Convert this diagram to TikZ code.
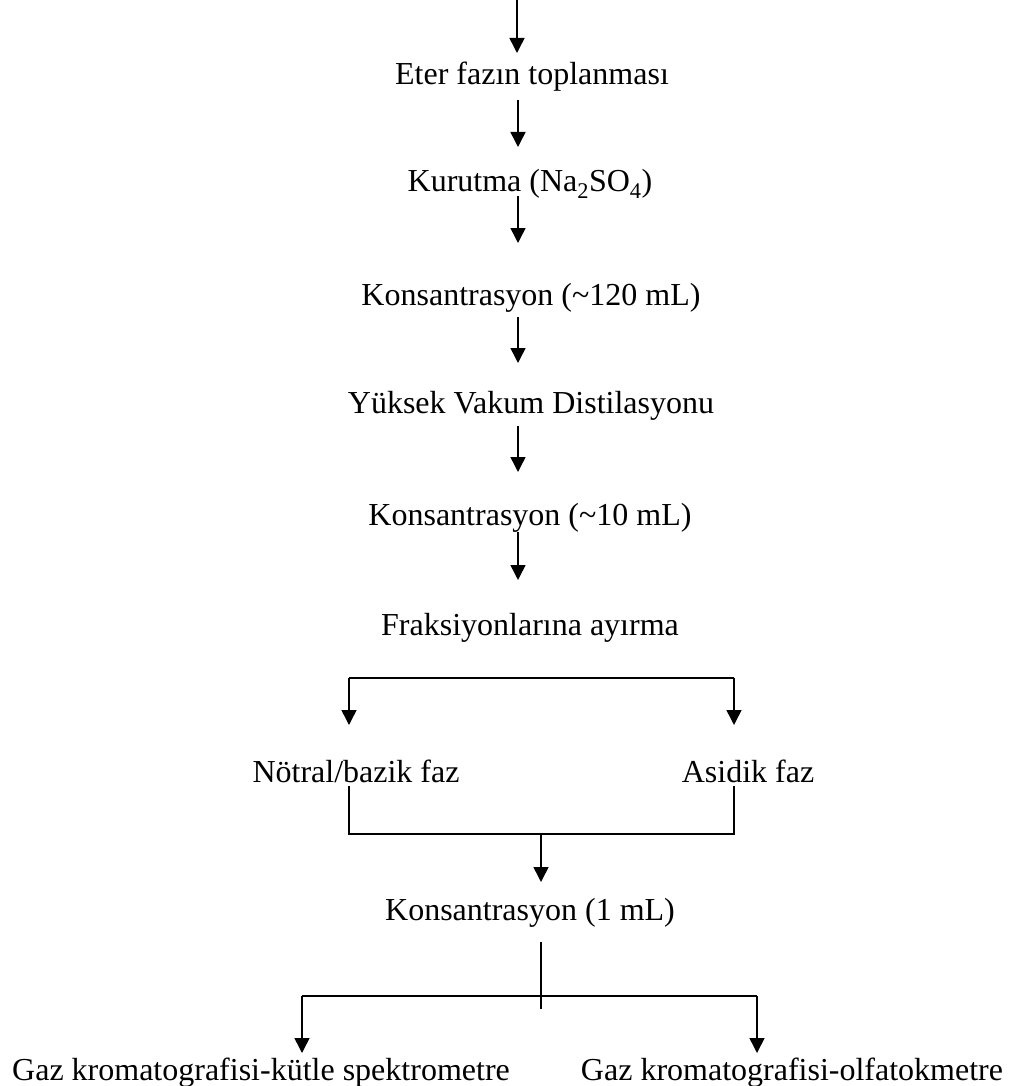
\documentclass[tikz,border=0pt]{standalone}
\usepackage{fontspec}
\setmainfont{Liberation Serif}
\usetikzlibrary{arrows.meta}
\begin{document}
\begin{tikzpicture}[x=1pt,y=-1pt,
  lbl/.style={anchor=base,inner sep=0pt,font=\fontsize{32}{38}\selectfont},
  flow/.style={line width=1.5pt,-{Triangle[width=15pt,length=15pt]}},
  plain/.style={line width=1.5pt}]
\useasboundingbox (0,0) rectangle (1012,1086);
% texts
\node[lbl] (eter) at (532,85) {Eter fazın toplanması};
\node[lbl] (kuru) at (530,192) {Kurutma (Na\textsubscript{2}SO\textsubscript{4})};
\node[lbl] (kon1) at (531,305) {Konsantrasyon (\textasciitilde120 mL)};
\node[lbl] (vak) at (531,413) {Yüksek Vakum Distilasyonu};
\node[lbl] (kon2) at (530,525) {Konsantrasyon (\textasciitilde10 mL)};
\node[lbl] (frak) at (530,635) {Fraksiyonlarına ayırma};
\node[lbl] (notr) at (356,782) {Nötral/bazik faz};
\node[lbl] (asid) at (748,782) {Asidik faz};
\node[lbl] (kon3) at (530,920) {Konsantrasyon (1 mL)};
\node[lbl] (gcms) at (261,1080) {Gaz kromatografisi-kütle spektrometre};
\node[lbl] (gco) at (792,1080) {Gaz kromatografisi-olfatokmetre};
% connector points
\coordinate (t0) at (517,0);   \coordinate (t1) at (517,53);
\coordinate (a0) at (518,100); \coordinate (a1) at (518,147);
\coordinate (b0) at (518,196); \coordinate (b1) at (518,243);
\coordinate (c0) at (518,317); \coordinate (c1) at (518,363);
\coordinate (d0) at (518,426); \coordinate (d1) at (518,472);
\coordinate (e0) at (518,532); \coordinate (e1) at (518,580);
\coordinate (fl) at (349,678); \coordinate (fr) at (734,678);
\coordinate (fl1) at (349,725); \coordinate (fr1) at (734,725);
\coordinate (gl) at (349,786); \coordinate (gr) at (734,786);
\coordinate (hl) at (349,834); \coordinate (hr) at (734,834);
\coordinate (hm) at (541,834); \coordinate (hm1) at (541,882);
\coordinate (k0) at (541,942); \coordinate (k1) at (541,1009);
\coordinate (kl) at (302,996); \coordinate (kr) at (757,996);
\coordinate (kl1) at (302,1053); \coordinate (kr1) at (757,1053);
% connectors
\draw[flow] (t0) -- (t1);
\draw[flow] (a0) -- (a1);
\draw[flow] (b0) -- (b1);
\draw[flow] (c0) -- (c1);
\draw[flow] (d0) -- (d1);
\draw[flow] (e0) -- (e1);
\draw[plain] (fl) -- (fr);
\draw[flow] (fl) -- (fl1);
\draw[flow] (fr) -- (fr1);
\draw[plain] (gl) -- (hl) -- (hr) -- (gr);
\draw[flow] (hm) -- (hm1);
\draw[plain] (k0) -- (k1);
\draw[plain] (kl) -- (kr);
\draw[flow] (kl) -- (kl1);
\draw[flow] (kr) -- (kr1);
\end{tikzpicture}
\end{document}
